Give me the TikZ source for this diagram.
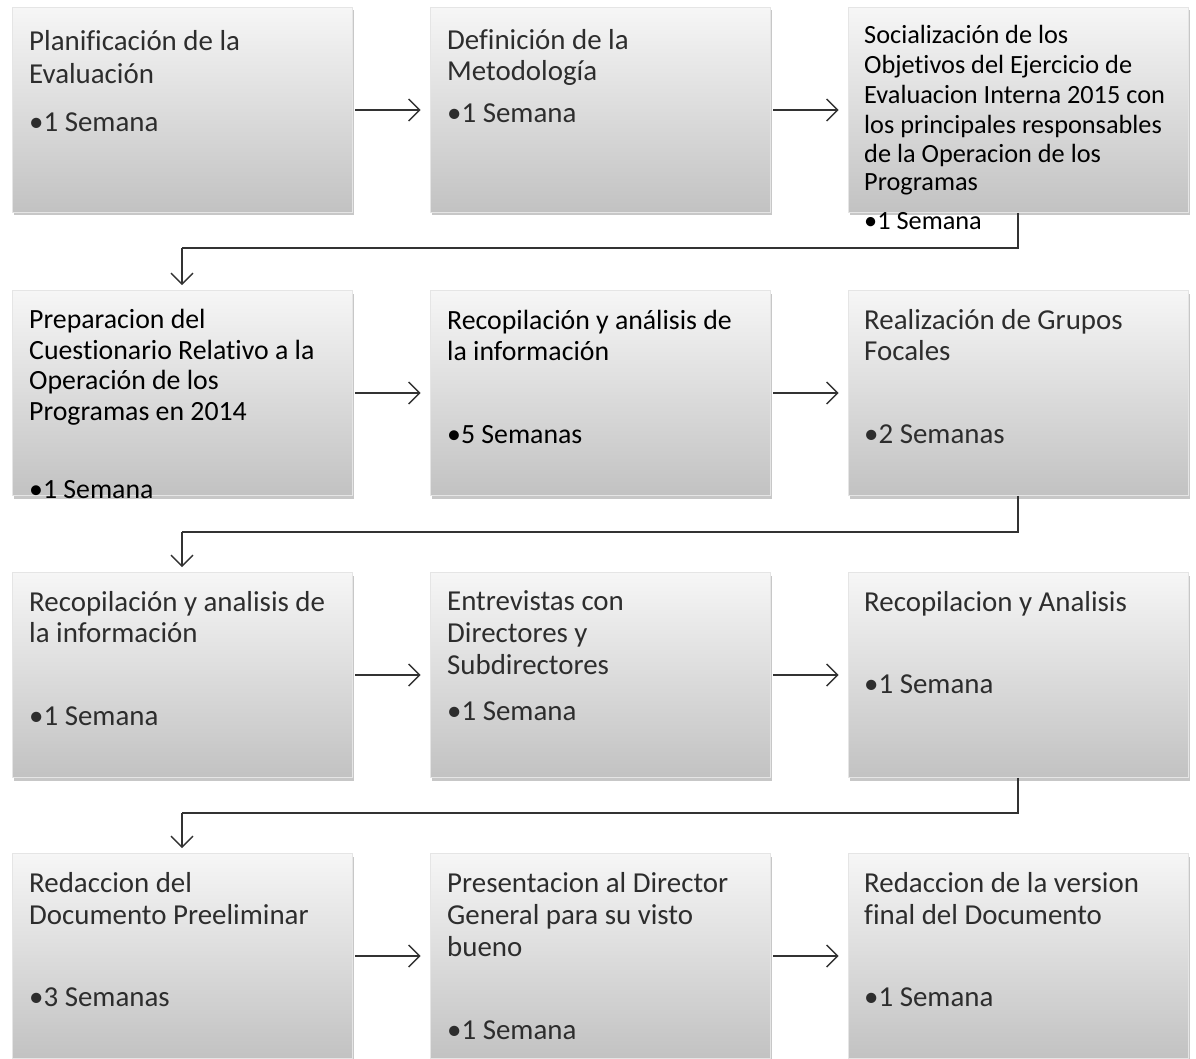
\documentclass[tikz,border=0pt]{standalone}
\usepackage{fontspec}
\setmainfont{Carlito}[RawFeature=-liga]
\usetikzlibrary{shadows,arrows.meta,calc}
\definecolor{btop}{RGB}{246,246,246}
\definecolor{bbot}{RGB}{194,194,194}
\definecolor{lineC}{RGB}{50,50,50}
\definecolor{lightT}{RGB}{45,45,45}
\tikzset{
  stepbox/.style={rectangle, minimum width=340pt, minimum height=205pt, inner sep=0pt,
    top color=btop, bottom color=bbot, draw=black!10, line width=0.6pt,
    drop shadow={shadow xshift=1.5pt, shadow yshift=-3pt, fill=black, opacity=.22}},
  txt/.style={anchor=base west, inner sep=0pt, font=\fontsize{28.9}{32}\selectfont, text=lightT},
  txtd/.style={txt, text=black, font=\fontsize{27.8}{32}\selectfont},
  txts/.style={txt, text=black, font=\fontsize{26.3}{30}\selectfont},
  conn/.style={draw=lineC, line width=1.4pt, -{Straight Barb[length=11pt,width=22pt,line width=1.4pt]}},
  plain/.style={draw=lineC, line width=1.4pt}
}
\begin{document}
\begin{tikzpicture}[x=1pt,y=-1pt]
\useasboundingbox (0,0) rectangle (1196,1059);
% boxes
\node[stepbox] (b1) at (182,110) {};
\node[stepbox] (b2) at (600,110) {};
\node[stepbox] (b3) at (1018,110) {};
\node[stepbox] (b4) at (182,393) {};
\node[stepbox] (b5) at (600,393) {};
\node[stepbox] (b6) at (1018,393) {};
\node[stepbox] (b7) at (182,675) {};
\node[stepbox] (b8) at (600,675) {};
\node[stepbox] (b9) at (1018,675) {};
\node[stepbox] (b10) at (182,956) {};
\node[stepbox] (b11) at (600,956) {};
\node[stepbox] (b12) at (1018,956) {};
% horizontal arrows
\foreach \a/\b in {b1/b2,b2/b3,b4/b5,b5/b6,b7/b8,b8/b9,b10/b11,b11/b12}{
  \draw[conn] ([xshift=3pt]\a.east) -- ([xshift=-9pt]\b.west);
}
% elbow connectors
\coordinate (m1) at (182,248);
\coordinate (m2) at (182,532);
\coordinate (m3) at (182,813);
\draw[plain] (b3.south) |- (m1);
\draw[conn] (m1) -- ([yshift=5pt]b4.north);
\draw[plain] (b6.south) |- (m2);
\draw[conn] (m2) -- ([yshift=5pt]b7.north);
\draw[plain] (b9.south) |- (m3);
\draw[conn] (m3) -- ([yshift=5pt]b10.north);
% texts row 1
\node[txt] (t1a) at (29,51) {Planificación de la};
\node[txt] (t1b) at (29,84) {Evaluación};
\node[txt] (t1c) at (29,132) {•1 Semana};
\node[txt] (t2a) at (447,50) {Definición de la};
\node[txt] (t2b) at (447,81) {Metodología};
\node[txt] (t2c) at (447,123) {•1 Semana};
\node[txts] (t3a) at (864,44) {Socialización de los};
\node[txts] (t3b) at (864,74) {Objetivos del Ejercicio de};
\node[txts] (t3c) at (864,104) {Evaluacion Interna 2015 con};
\node[txts] (t3d) at (864,134) {los principales responsables};
\node[txts] (t3e) at (864,163) {de la Operacion de los};
\node[txts] (t3f) at (864,191) {Programas};
\node[txts] (t3g) at (864,230) {•1 Semana};
% row 2
\node[txtd] (t4a) at (29,328) {Preparacion del};
\node[txtd] (t4b) at (29,359) {Cuestionario Relativo a la};
\node[txtd] (t4c) at (29,389) {Operación de los};
\node[txtd] (t4d) at (29,420) {Programas en 2014};
\node[txtd] (t4e) at (29,498) {•1 Semana};
\node[txtd] (t5a) at (447,329) {Recopilación y análisis de};
\node[txtd] (t5b) at (447,360) {la información};
\node[txtd] (t5c) at (447,443) {•5 Semanas};
\node[txt] (t6a) at (864,329) {Realización de Grupos};
\node[txt] (t6b) at (864,360) {Focales};
\node[txt] (t6c) at (864,443) {•2 Semanas};
% row 3
\node[txt] (t7a) at (29,611) {Recopilación y analisis de};
\node[txt] (t7b) at (29,642) {la información};
\node[txt] (t7c) at (29,725) {•1 Semana};
\node[txt] (t8a) at (447,610) {Entrevistas con};
\node[txt] (t8b) at (447,642) {Directores y};
\node[txt] (t8c) at (447,674) {Subdirectores};
\node[txt] (t8d) at (447,720) {•1 Semana};
\node[txt] (t9a) at (864,611) {Recopilacion y Analisis};
\node[txt] (t9b) at (864,693) {•1 Semana};
% row 4
\node[txt] (t10a) at (29,892) {Redaccion del};
\node[txt] (t10b) at (29,924) {Documento Preeliminar};
\node[txt] (t10c) at (29,1006) {•3 Semanas};
\node[txt] (t11a) at (447,892) {Presentacion al Director};
\node[txt] (t11b) at (447,924) {General para su visto};
\node[txt] (t11c) at (447,956) {bueno};
\node[txt] (t11d) at (447,1039) {•1 Semana};
\node[txt] (t12a) at (864,892) {Redaccion de la version};
\node[txt] (t12b) at (864,924) {final del Documento};
\node[txt] (t12c) at (864,1006) {•1 Semana};
\end{tikzpicture}
\end{document}
